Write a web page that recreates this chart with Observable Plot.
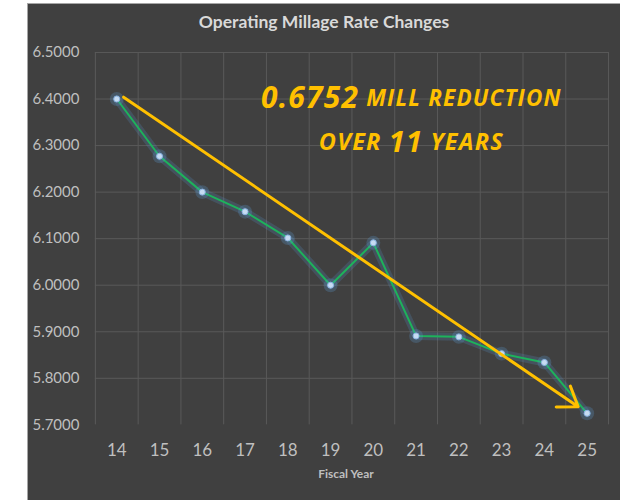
<!DOCTYPE html>
<html>
<head>
<meta charset="utf-8">
<script src="https://cdn.jsdelivr.net/npm/d3@7"></script>
<script src="https://cdn.jsdelivr.net/npm/@observablehq/plot@0.6"></script>
<style>
  html, body { margin: 0; padding: 0; background: #ffffff; }
  #panel {
    position: absolute; left: 27px; top: 3px; width: 593px; height: 497px;
    background: #404040; border-top: 1px solid #a6a6a6; border-left: 1px solid #a6a6a6;
    box-sizing: border-box; overflow: hidden;
  }
  #title {
    height: 34px; line-height: 36px; text-align: center; color: #d9d9d9;
    font-family: Lato, "Open Sans", sans-serif; font-weight: bold; font-size: 17.5px;
  }
  svg { display: block; }
</style>
</head>
<body>
<div id="panel"><div id="title">Operating Millage Rate Changes</div></div>
<script>
const years = [14, 15, 16, 17, 18, 19, 20, 21, 22, 23, 24, 25];
const rates = [6.4000, 6.2770, 6.2000, 6.1580, 6.1015, 6.0000, 6.0910, 5.8910, 5.8890, 5.8530, 5.8340, 5.7248];
const yTicks = [5.7, 5.8, 5.9, 6.0, 6.1, 6.2, 6.3, 6.4, 6.5];
const xGrid = [13.5, 14.5, 15.5, 16.5, 17.5, 18.5, 19.5, 20.5, 21.5, 22.5, 23.5, 24.5, 25.5];
const arrowFrom = {x: 14.16, y: 6.404};
const arrowTo = {x: 24.79, y: 5.739};
const annotation = [
  {x: 20.9, y: 6.397, parts: [["0.6752", 30], [" MILL REDUCTION", 22.5]]},
  {x: 20.9, y: 6.302, parts: [["OVER ", 23.5], ["11", 29], [" YEARS", 23.5]]}
];

const data = years.map((yr, i) => ({year: yr, rate: rates[i]}));

const chart = Plot.plot({
  width: 593,
  height: 462,
  marginLeft: 67,
  marginRight: 12,
  marginTop: 14,
  marginBottom: 75,
  style: {background: "transparent", color: "#bfbfbf", fontFamily: "Lato, 'Open Sans', sans-serif"},
  x: {type: "linear", domain: [13.5, 25.5]},
  y: {domain: [5.7, 6.5]},
  marks: [
    Plot.ruleY(yTicks.filter(d => d > 5.7), {stroke: "#595959", strokeWidth: 1}),
    Plot.ruleX(xGrid, {y1: 5.7, y2: 6.5, stroke: "#595959", strokeWidth: 1}),
    Plot.axisY({ticks: yTicks, tickFormat: d3.format(".4f"), tickSize: 0, tickPadding: 16, fontSize: 15, fill: "#bfbfbf", label: null}),
    Plot.axisX({ticks: years, tickSize: 0, tickPadding: 19, fontSize: 17, fill: "#bfbfbf", label: null}),
    Plot.text(["Fiscal Year"], {frameAnchor: "bottom", dx: -6, dy: 53, fontSize: 12, fontWeight: "bold", fill: "#bfbfbf"}),
    // glow
    Plot.line(data, {x: "year", y: "rate", stroke: "#5b9bd5", strokeWidth: 8, strokeOpacity: 0.2}),
    Plot.line(data, {x: "year", y: "rate", stroke: "#1db35b", strokeWidth: 2}),
    Plot.dot(data, {x: "year", y: "rate", r: 7, fill: "#5b9bd5", fillOpacity: 0.25}),
    Plot.dot(data, {x: "year", y: "rate", r: 3, fill: "#c6dcf2", stroke: "#8db4e2", strokeWidth: 1}),
    Plot.arrow([{}], {x1: () => arrowFrom.x, y1: () => arrowFrom.y, x2: () => arrowTo.x, y2: () => arrowTo.y,
      stroke: "#ffc000", strokeWidth: 3, headLength: 11, headAngle: 70}),
    Plot.text(annotation, {
      x: "x", y: "y", text: d => d.parts.map(p => p[0]).join(""),
      render(index, scales, values, dims, context, next) {
        const g = d3.create("svg:g");
        for (const i of index) {
          const d = annotation[i];
          const t = g.append("text")
            .attr("x", scales.x(d.x)).attr("y", scales.y(d.y))
            .attr("text-anchor", "middle").attr("dominant-baseline", "middle")
            .attr("fill", "#ffc000").attr("font-weight", "bold").attr("font-style", "italic")
            .attr("letter-spacing", 1.2)
            .attr("font-family", "'Open Sans', Lato, sans-serif");
          for (const [s, fs] of d.parts) {
            t.append("tspan").attr("font-size", fs).text(s);
          }
        }
        return g.node();
      }
    })
  ]
});
document.getElementById("panel").appendChild(chart);
</script>
</body>
</html>
